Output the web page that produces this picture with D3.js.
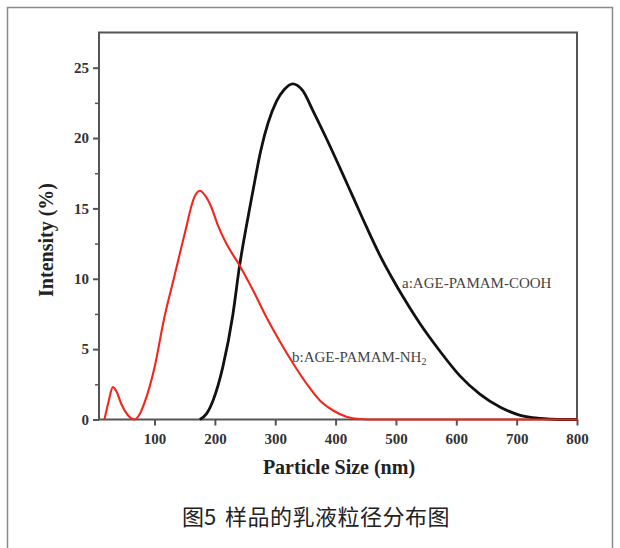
<!DOCTYPE html>
<html>
<head>
<meta charset="utf-8">
<script src="https://cdn.jsdelivr.net/npm/d3@7"></script>
<style>
  body { margin: 0; background: #fff; }
</style>
</head>
<body>
<div id="chart"></div>
<script>
// curve a : AGE-PAMAM-COOH (black)
const sizeA = [175, 186, 197, 213, 230, 241, 252, 262, 276, 302, 315, 329, 345, 363, 385, 407, 429, 451, 473, 495, 512, 540, 573, 606, 639, 673, 706, 739, 770, 800];
const intA  = [0, 0.4, 1.35, 3.7, 7.5, 10.95, 13.7, 16.0, 19.1, 22.6, 23.45, 23.85, 23.4, 21.9, 19.95, 17.9, 15.8, 13.7, 11.7, 9.95, 8.7, 6.8, 4.85, 3.1, 1.8, 0.87, 0.3, 0.08, 0, 0];

// curve b : AGE-PAMAM-NH2 (red)
const sizeB = [17, 24, 31, 38, 45, 56, 67, 75, 83, 100, 116, 133, 150, 166, 175, 184, 194, 205, 219, 241, 263, 285, 307, 330, 352, 374, 396, 418, 440, 470, 800];
const intB  = [0, 1.3, 2.3, 1.9, 1.1, 0.3, 0, 0.35, 1.15, 3.7, 7.2, 10.2, 13.2, 15.8, 16.25, 15.9, 15.1, 13.8, 12.5, 10.95, 9.2, 7.3, 5.6, 3.96, 2.54, 1.35, 0.64, 0.2, 0.04, 0, 0];

const xTicks = [100, 200, 300, 400, 500, 600, 700, 800];
const yTicks = [0, 5, 10, 15, 20, 25];
const yMinor = [2.5, 7.5, 12.5, 17.5, 22.5];

const width = 620, height = 548;
const serif = "'Liberation Serif', 'Times New Roman', serif";

const svg = d3.select("#chart")
    .append("svg")
    .attr("width", width)
    .attr("height", height);

// outer frame of the figure
svg.append("rect")
    .attr("x", 7.5).attr("y", 7.5)
    .attr("width", 605).attr("height", 600)
    .attr("fill", "none")
    .attr("stroke", "#8a8a8a")
    .attr("stroke-width", 1.5);

const xScale = d3.scaleLinear()
    .domain([8, 800])
    .range([99, 577]);

const yScale = d3.scaleLinear()
    .domain([0, 27.5])
    .range([419.5, 32.5]);

// x axis
const gx = svg.append("g")
    .attr("transform", `translate(0,${yScale(0)})`)
    .call(d3.axisBottom(xScale).tickValues(xTicks).tickSize(6).tickPadding(8));
gx.select(".domain").remove();
gx.selectAll("line").attr("stroke", "#555").attr("stroke-width", 2);
gx.selectAll("text")
    .attr("font-family", serif).attr("font-weight", "bold")
    .attr("font-size", "15px").attr("fill", "#333");

// y axis
const gy = svg.append("g")
    .attr("transform", `translate(${xScale(8)},0)`)
    .call(d3.axisLeft(yScale).tickValues(yTicks).tickSize(6).tickPadding(4));
gy.select(".domain").remove();
gy.selectAll("line").attr("stroke", "#555").attr("stroke-width", 2);
gy.selectAll("text")
    .attr("font-family", serif).attr("font-weight", "bold")
    .attr("font-size", "15px").attr("fill", "#333");

const gyMinor = svg.append("g")
    .attr("transform", `translate(${xScale(8)},0)`)
    .call(d3.axisLeft(yScale).tickValues(yMinor).tickSize(4).tickFormat(""));
gyMinor.select(".domain").remove();
gyMinor.selectAll("line").attr("stroke", "#555").attr("stroke-width", 1.5);

// plot box
svg.append("rect")
    .attr("x", xScale(8)).attr("y", yScale(27.5))
    .attr("width", xScale(800) - xScale(8))
    .attr("height", yScale(0) - yScale(27.5))
    .attr("fill", "none")
    .attr("stroke", "#555")
    .attr("stroke-width", 2);

const line = d3.line()
    .x(d => xScale(d[0]))
    .y(d => yScale(d[1]))
    .curve(d3.curveMonotoneX);

svg.append("path")
    .datum(sizeA.map((s, i) => [s, intA[i]]))
    .attr("d", line)
    .attr("fill", "none")
    .attr("stroke", "#111")
    .attr("stroke-width", 2.8);

svg.append("path")
    .datum(sizeB.map((s, i) => [s, intB[i]]))
    .attr("d", line)
    .attr("fill", "none")
    .attr("stroke", "#f2261b")
    .attr("stroke-width", 2.1);

// curve labels
svg.append("text")
    .attr("x", 402).attr("y", 288)
    .attr("font-family", serif).attr("font-size", "15px").attr("fill", "#444")
    .text("a:AGE-PAMAM-COOH");

const tb = svg.append("text")
    .attr("x", 292).attr("y", 362)
    .attr("font-family", serif).attr("font-size", "15px").attr("fill", "#444")
    .text("b:AGE-PAMAM-NH");
tb.append("tspan").attr("font-size", "10px").attr("dy", 3).text("2");

// axis titles
svg.append("text")
    .attr("x", 339).attr("y", 474)
    .attr("text-anchor", "middle")
    .attr("font-family", serif).attr("font-weight", "bold")
    .attr("font-size", "20px").attr("fill", "#222")
    .text("Particle Size (nm)");

svg.append("text")
    .attr("transform", "translate(53,240) rotate(-90)")
    .attr("text-anchor", "middle")
    .attr("font-family", serif).attr("font-weight", "bold")
    .attr("font-size", "20px").attr("fill", "#222")
    .text("Intensity (%)");

// caption
svg.append("text")
    .attr("x", 182).attr("y", 525)
    .attr("font-family", "'Noto Sans CJK SC', sans-serif")
    .attr("font-size", "22px").attr("fill", "#222")
    .text("图5");
svg.append("text")
    .attr("x", 225).attr("y", 525)
    .attr("font-family", "'Noto Sans CJK SC', sans-serif")
    .attr("font-size", "22px").attr("fill", "#222")
    .attr("letter-spacing", "0.5px")
    .text("样品的乳液粒径分布图");
</script>
</body>
</html>
